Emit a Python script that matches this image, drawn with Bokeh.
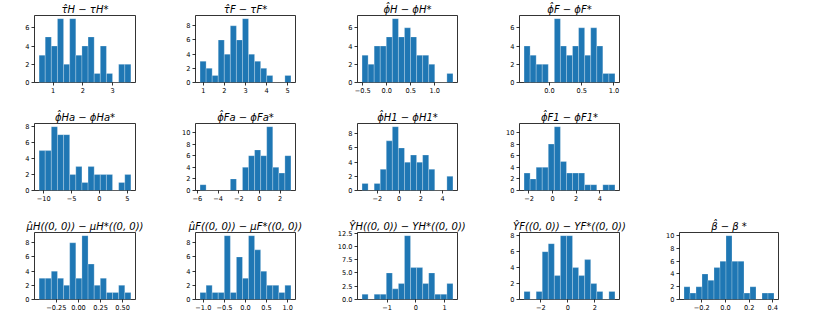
import numpy as np
from bokeh.plotting import figure
from bokeh.models import FixedTicker, Range1d
from bokeh.layouts import column, row
from bokeh.embed import file_html
from bokeh.resources import INLINE

# ---------------- data (15-bin histograms) ----------------
tauH_counts = [3, 5, 4, 7, 2, 7, 3, 4, 5, 1, 4, 1, 0, 2, 2]
tauH_edges = (0.53, 3.62)
tauH_xticks = [1, 2, 3]
tauH_xlabels = ["1", "2", "3"]
tauH_yticks = [0, 2, 4, 6]

tauF_counts = [3, 2, 1, 6, 4, 8, 6, 9, 4, 3, 2, 1, 0, 0, 1]
tauF_edges = (0.84, 5.16)
tauF_xticks = [1, 2, 3, 4, 5]
tauF_xlabels = ["1", "2", "3", "4", "5"]
tauF_yticks = [0, 2, 4, 6, 8]

phiH_counts = [3, 2, 4, 4, 5, 7, 5, 6, 5, 3, 3, 2, 0, 0, 1]
phiH_edges = (-0.514, 1.377)
phiH_xticks = [-0.5, 0.0, 0.5, 1.0]
phiH_xlabels = ["\u22120.5", "0.0", "0.5", "1.0"]
phiH_yticks = [0, 2, 4, 6]

phiF_counts = [4, 3, 2, 2, 0, 7, 4, 3, 4, 6, 3, 6, 4, 1, 1]
phiF_edges = (-0.393, 1.015)
phiF_xticks = [0.0, 0.5, 1.0]
phiF_xlabels = ["0.0", "0.5", "1.0"]
phiF_yticks = [0, 2, 4, 6]

phiHa_counts = [5, 5, 8, 7, 7, 2, 3, 1, 3, 2, 2, 2, 0, 1, 2]
phiHa_edges = (-10.84, 5.66)
phiHa_xticks = [-10, -5, 0, 5]
phiHa_xlabels = ["\u221210", "\u22125", "0", "5"]
phiHa_yticks = [0, 2, 4, 6, 8]

phiFa_counts = [1, 0, 0, 0, 0, 2, 0, 4, 6, 7, 6, 11, 4, 3, 6]
phiFa_edges = (-5.75, 3.05)
phiFa_xticks = [-6, -4, -2, 0, 2]
phiFa_xlabels = ["\u22126", "\u22124", "\u22122", "0", "2"]
phiFa_yticks = [0, 2, 4, 6, 8, 10]

phiH1_counts = [1, 0, 1, 3, 7, 9, 6, 4, 5, 4, 5, 3, 0, 0, 2]
phiH1_edges = (-3.40, 4.95)
phiH1_xticks = [-2, 0, 2, 4]
phiH1_xlabels = ["\u22122", "0", "2", "4"]
phiH1_yticks = [0, 2, 4, 6, 8]

phiF1_counts = [3, 2, 4, 4, 8, 11, 5, 3, 3, 3, 1, 1, 0, 1, 1]
phiF1_edges = (-2.42, 5.29)
phiF1_xticks = [-2, 0, 2, 4]
phiF1_xlabels = ["\u22122", "0", "2", "4"]
phiF1_yticks = [0, 2, 4, 6, 8, 10]

muH_counts = [3, 3, 4, 3, 2, 8, 3, 9, 5, 2, 3, 1, 1, 2, 1]
muH_edges = (-0.446, 0.594)
muH_xticks = [-0.25, 0.0, 0.25, 0.5]
muH_xlabels = ["\u22120.25", "0.00", "0.25", "0.50"]
muH_yticks = [0, 2, 4, 6, 8]

muF_counts = [1, 2, 1, 1, 9, 1, 6, 3, 9, 7, 4, 2, 2, 1, 2]
muF_edges = (-1.078, 1.078)
muF_xticks = [-1.0, -0.5, 0.0, 0.5, 1.0]
muF_xlabels = ["\u22121.0", "\u22120.5", "0.0", "0.5", "1.0"]
muF_yticks = [0, 2, 4, 6, 8]

YH_counts = [1, 0, 1, 1, 5, 2, 3, 12, 6, 6, 3, 5, 1, 1, 3]
YH_edges = (-1.87, 1.29)
YH_xticks = [-1, 0, 1]
YH_xlabels = ["\u22121", "0", "1"]
YH_yticks = [0, 2.5, 5, 7.5, 10, 12.5]
YH_ylabels = ["0.0", "2.5", "5.0", "7.5", "10.0", "12.5"]

YF_counts = [1, 0, 1, 6, 7, 3, 8, 8, 4, 3, 5, 2, 1, 0, 1]
YF_edges = (-3.24, 3.49)
YF_xticks = [-2, 0, 2]
YF_xlabels = ["\u22122", "0", "2"]
YF_yticks = [0, 2, 4, 6, 8]

beta_counts = [2, 1, 2, 4, 3, 5, 6, 10, 6, 6, 1, 2, 0, 1, 1]
beta_edges = (-0.35, 0.41)
beta_xticks = [-0.2, 0.0, 0.2, 0.4]
beta_xlabels = ["\u22120.2", "0.0", "0.2", "0.4"]
beta_yticks = [0, 2, 4, 6, 8, 10]

HAT = "\u0302"
titles = {
    "tauH": "τ" + HAT + "H − τH*",
    "tauF": "τ" + HAT + "F − τF*",
    "phiH": "ϕ" + HAT + "H − ϕH*",
    "phiF": "ϕ" + HAT + "F − ϕF*",
    "phiHa": "ϕ" + HAT + "Ha − ϕHa*",
    "phiFa": "ϕ" + HAT + "Fa − ϕFa*",
    "phiH1": "ϕ" + HAT + "H1 − ϕH1*",
    "phiF1": "ϕ" + HAT + "F1 − ϕF1*",
    "muH": "μ" + HAT + "H((0, 0)) − μH*((0, 0))",
    "muF": "μ" + HAT + "F((0, 0)) − μF*((0, 0))",
    "YH": "Y" + HAT + "H((0, 0)) − YH*((0, 0))",
    "YF": "Y" + HAT + "F((0, 0)) − YF*((0, 0))",
    "beta": "β" + HAT + " − β *",
}

# ---------------- layout / style ----------------
BAR = "#1f77b4"
FONT = "DejaVu Sans"
TICK_FS = "6.6px"
COL_L = [34, 30, 30, 30, 30]
COL_FW = [101, 100, 100, 100, 99]
COL_R = [30, 32, 32, 30, 10]
ROW_T = [15, 21, 22]
ROW_FH = [67, 67, 67]
ROW_B = [20, 20, 16]


def make(counts, edges, xt, xl, yt, yl, tkey, r, c):
    L, FW, R = COL_L[c], COL_FW[c], COL_R[c]
    T, FH, B = ROW_T[r], ROW_FH[r], ROW_B[r]
    lo, hi = edges
    e = np.linspace(lo, hi, len(counts) + 1)
    pad = 0.05 * (hi - lo)
    p = figure(width=L + FW + R, height=T + FH + B,
               min_border_left=L, min_border_right=R,
               min_border_top=T, min_border_bottom=B,
               x_range=Range1d(lo - pad, hi + pad),
               y_range=Range1d(0, max(counts) * 1.05),
               output_backend="svg", toolbar_location=None)
    p.quad(left=e[:-1], right=e[1:], bottom=0, top=counts,
           fill_color=BAR, line_color="white", line_alpha=0.3, line_width=0.8)
    p.xaxis.ticker = FixedTicker(ticks=xt)
    p.xaxis.major_label_overrides = {float(t): s for t, s in zip(xt, xl)}
    if yl is None:
        yl = [str(v) for v in yt]
    p.yaxis.ticker = FixedTicker(ticks=yt)
    p.yaxis.major_label_overrides = {float(t): s for t, s in zip(yt, yl)}
    for ax in (p.xaxis[0], p.yaxis[0]):
        ax.axis_line_color = None
        ax.major_tick_out = 3
        ax.major_tick_in = 0
        ax.major_tick_line_color = "black"
        ax.major_tick_line_width = 0.8
        ax.minor_tick_line_color = None
        ax.major_label_text_font = FONT
        ax.major_label_text_font_size = TICK_FS
        ax.major_label_text_color = "black"
        ax.major_label_standoff = 2
    p.xgrid.visible = False
    p.ygrid.visible = False
    p.outline_line_color = "black"
    p.outline_line_width = 0.8
    p.background_fill_color = "white"
    p.border_fill_color = "white"
    p.title.text = titles[tkey]
    p.title.align = "center"
    p.title.text_font = FONT
    p.title.text_font_size = "10px"
    p.title.text_font_style = "italic"
    p.title.text_color = "black"
    p.title.standoff = 2
    p.title.offset = 0
    return p


row1 = [
    make(tauH_counts, tauH_edges, tauH_xticks, tauH_xlabels, tauH_yticks, None, "tauH", 0, 0),
    make(tauF_counts, tauF_edges, tauF_xticks, tauF_xlabels, tauF_yticks, None, "tauF", 0, 1),
    make(phiH_counts, phiH_edges, phiH_xticks, phiH_xlabels, phiH_yticks, None, "phiH", 0, 2),
    make(phiF_counts, phiF_edges, phiF_xticks, phiF_xlabels, phiF_yticks, None, "phiF", 0, 3),
]
row2 = [
    make(phiHa_counts, phiHa_edges, phiHa_xticks, phiHa_xlabels, phiHa_yticks, None, "phiHa", 1, 0),
    make(phiFa_counts, phiFa_edges, phiFa_xticks, phiFa_xlabels, phiFa_yticks, None, "phiFa", 1, 1),
    make(phiH1_counts, phiH1_edges, phiH1_xticks, phiH1_xlabels, phiH1_yticks, None, "phiH1", 1, 2),
    make(phiF1_counts, phiF1_edges, phiF1_xticks, phiF1_xlabels, phiF1_yticks, None, "phiF1", 1, 3),
]
row3 = [
    make(muH_counts, muH_edges, muH_xticks, muH_xlabels, muH_yticks, None, "muH", 2, 0),
    make(muF_counts, muF_edges, muF_xticks, muF_xlabels, muF_yticks, None, "muF", 2, 1),
    make(YH_counts, YH_edges, YH_xticks, YH_xlabels, YH_yticks, YH_ylabels, "YH", 2, 2),
    make(YF_counts, YF_edges, YF_xticks, YF_xlabels, YF_yticks, None, "YF", 2, 3),
    make(beta_counts, beta_edges, beta_xticks, beta_xlabels, beta_yticks, None, "beta", 2, 4),
]

layout = column(row(*row1, spacing=0), row(*row2, spacing=0), row(*row3, spacing=0), spacing=0)
open("out.html", "w").write(file_html(layout, INLINE))
